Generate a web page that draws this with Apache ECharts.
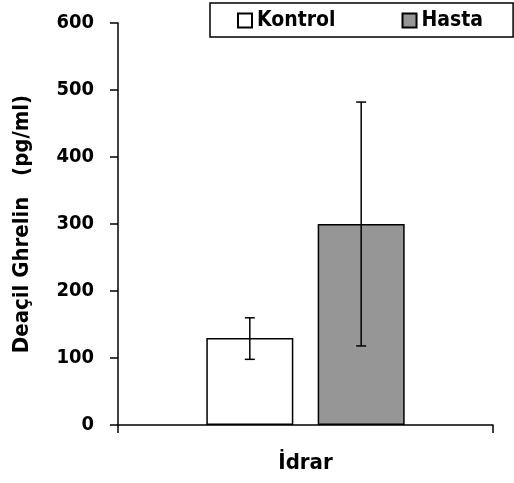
<!DOCTYPE html>
<html>
<head>
<meta charset="utf-8">
<script src="https://cdn.jsdelivr.net/npm/echarts@6/dist/echarts.min.js"></script>
<style>
  html, body { margin: 0; padding: 0; background: #fff; }
  #chart { width: 514px; height: 483px; }
</style>
</head>
<body>
<div id="chart"></div>
<script>
// values
var categories = ['İdrar'];
var seriesNames = ['Kontrol', 'Hasta'];
var means = [130, 300];
var errLow = [98, 118];
var errHigh = [160, 482];
var yTicks = [0, 100, 200, 300, 400, 500, 600];

var fontFam = '"Liberation Sans Narrow", "DejaVu Sans Condensed", "Liberation Sans", sans-serif';
var barW = 87, barGapPct = 0.28;

var myChart = echarts.init(document.getElementById('chart'));

function errorSeries(idx) {
    // offset of this bar's centre from the category centre
    var off = (idx - 0.5) * (barW + barW * barGapPct);
    return {
        name: seriesNames[idx] + ' err',
        type: 'custom',
        z: 10,
        data: [[0, errLow[idx], errHigh[idx]]],
        renderItem: function (params, api) {
            var lo = api.coord([api.value(0), api.value(1)]);
            var hi = api.coord([api.value(0), api.value(2)]);
            var x = lo[0] + off;
            var cap = 5;
            var st = { stroke: '#000', lineWidth: 1.5 };
            return {
                type: 'group',
                children: [
                    { type: 'line', shape: { x1: x, y1: lo[1], x2: x, y2: hi[1] }, style: st },
                    { type: 'line', shape: { x1: x - cap, y1: lo[1], x2: x + cap, y2: lo[1] }, style: st },
                    { type: 'line', shape: { x1: x - cap, y1: hi[1], x2: x + cap, y2: hi[1] }, style: st }
                ]
            };
        }
    };
}

var option = {
    backgroundColor: '#fff',
    animation: false,
    grid: { left: 118, right: 21, top: 23, bottom: 58 },
    legend: {
        data: seriesNames,
        icon: 'rect',
        left: 210,
        top: 3,
        padding: [7, 30, 6, 27],
        itemWidth: 14,
        itemHeight: 14,
        itemGap: 66,
        borderColor: '#000',
        borderWidth: 1.5,
        backgroundColor: '#fff',
        textStyle: { fontFamily: fontFam, fontWeight: 'bold', fontSize: 21, color: '#000', lineHeight: 18 }
    },
    xAxis: {
        type: 'category',
        data: categories,
        axisLine: { lineStyle: { color: '#000', width: 1.5 } },
        axisTick: { show: true, length: 8, lineStyle: { color: '#000', width: 1.5 } },
        axisLabel: { margin: 27, fontFamily: fontFam, fontWeight: 'bold', fontSize: 22, color: '#000' }
    },
    yAxis: {
        type: 'value',
        min: 0,
        max: 600,
        interval: 100,
        name: 'Deaçil Ghrelin   (pg/ml)',
        nameLocation: 'middle',
        nameGap: 85,
        nameTextStyle: { fontFamily: fontFam, fontWeight: 'bold', fontSize: 22, color: '#000' },
        axisLine: { show: true, lineStyle: { color: '#000', width: 1.5 } },
        axisTick: { show: true, length: 8, lineStyle: { color: '#000', width: 1.5 } },
        splitLine: { show: false },
        axisLabel: {
            margin: 24,
            fontFamily: fontFam, fontWeight: 'bold', fontSize: 20, color: '#000',
            formatter: function (v) { return yTicks.indexOf(v) >= 0 ? String(v) : ''; }
        }
    },
    series: [
        {
            name: seriesNames[0],
            type: 'bar',
            data: [means[0]],
            barWidth: barW,
            barGap: (barGapPct * 100) + '%',
            itemStyle: { color: '#ffffff', borderColor: '#000', borderWidth: 1.5 }
        },
        {
            name: seriesNames[1],
            type: 'bar',
            data: [means[1]],
            barWidth: barW,
            itemStyle: { color: '#969696', borderColor: '#000', borderWidth: 1.5 }
        },
        errorSeries(0),
        errorSeries(1)
    ]
};

myChart.setOption(option);
</script>
</body>
</html>
